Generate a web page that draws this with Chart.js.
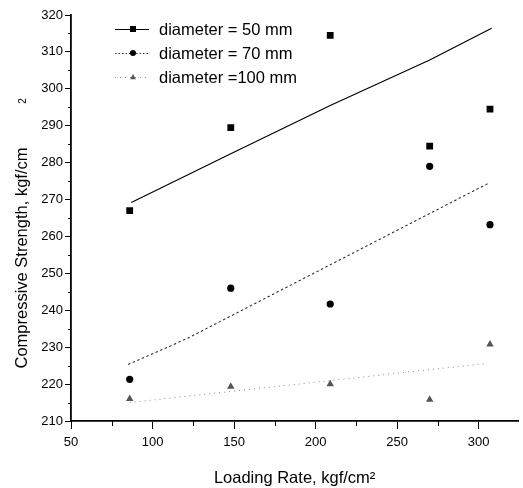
<!DOCTYPE html>
<html>
<head>
<meta charset="utf-8">
<script src="https://cdn.jsdelivr.net/npm/chart.js@4.4.0/dist/chart.umd.min.js"></script>
<style>
  html, body { margin: 0; padding: 0; background: #fff; }
</style>
</head>
<body>
<canvas id="strengthChart" width="523" height="488"></canvas>
<script>
// measured points
var loadingRate = [86, 148, 209, 270, 307];
var strength50 = [267, 289.5, 314.5, 284.5, 294.5];
var strength70 = [221.3, 246, 241.7, 279, 263.2];
var strength100 = [216, 219.3, 220, 215.8, 230.8];

// fitted lines
var fit50X = [87, 148, 209, 270, 308];
var fit50Y = [269.2, 282.4, 295.5, 307.8, 316.4];
var fit70X = [85, 121, 306];
var fit70Y = [225.3, 232.3, 274.4];
var fit100X = [86, 305];
var fit100Y = [215, 225.6];

// axis ticks
var xTicks = [50, 100, 150, 200, 250, 300];
var xMinor = [75, 125, 175, 225, 275];
var yTicks = [210, 220, 230, 240, 250, 260, 270, 280, 290, 300, 310, 320];
var yMinor = [215, 225, 235, 245, 255, 265, 275, 285, 295, 305, 315];

var legendNames = ["diameter = 50 mm", "diameter = 70 mm", "diameter =100 mm"];

var FONT = "'Liberation Sans', Arial, sans-serif";
var INK = "#000";

function pts(xs, ys) {
    return xs.map(function (x, i) { return { x: x, y: ys[i] }; });
}

// legend rows: line style + marker
var legendStyles = [
    { dash: [], color: INK, width: 1.2, marker: "rect", fill: INK },
    { dash: [1.5, 2], color: "#333", width: 1, marker: "circle", fill: INK },
    { dash: [1, 4], color: "#888", width: 1, marker: "triangle", fill: "#555" }
];

function drawMarker(ctx, kind, x, y, r) {
    ctx.beginPath();
    if (kind === "rect") {
        ctx.rect(x - r, y - r, 2 * r, 2 * r);
    } else if (kind === "circle") {
        ctx.arc(x, y, r, 0, Math.PI * 2);
    } else {
        ctx.moveTo(x, y - r * 1.1);
        ctx.lineTo(x + r, y + r * 0.8);
        ctx.lineTo(x - r, y + r * 0.8);
        ctx.closePath();
    }
    ctx.fill();
}

var extras = {
    id: "extras",
    afterDraw: function (chart) {
        var ctx = chart.ctx;
        var xs = chart.scales.x, ys = chart.scales.y;
        ctx.save();

        // minor ticks
        ctx.strokeStyle = INK;
        ctx.lineWidth = 1;
        xMinor.forEach(function (v) {
            var px = Math.round(xs.getPixelForValue(v)) + 0.5;
            ctx.beginPath();
            ctx.moveTo(px, xs.top);
            ctx.lineTo(px, xs.top + 5);
            ctx.stroke();
        });
        yMinor.forEach(function (v) {
            var py = Math.round(ys.getPixelForValue(v)) + 0.5;
            ctx.beginPath();
            ctx.moveTo(ys.right, py);
            ctx.lineTo(ys.right - 3, py);
            ctx.stroke();
        });

        // legend
        var rowY = [29, 53, 77];
        ctx.font = "16.5px " + FONT;
        ctx.textBaseline = "middle";
        ctx.textAlign = "left";
        legendNames.forEach(function (name, i) {
            var s = legendStyles[i];
            ctx.strokeStyle = s.color;
            ctx.lineWidth = s.width;
            ctx.setLineDash(s.dash);
            ctx.beginPath();
            ctx.moveTo(115, rowY[i] + 0.5);
            ctx.lineTo(149, rowY[i] + 0.5);
            ctx.stroke();
            ctx.setLineDash([]);
            ctx.fillStyle = s.fill;
            drawMarker(ctx, s.marker, 133, rowY[i], i === 2 ? 2.8 : 3);
            ctx.fillStyle = INK;
            ctx.fillText(name, 159, rowY[i] + 1);
        });

        // y axis title
        ctx.fillStyle = INK;
        ctx.translate(22, 258);
        ctx.rotate(-Math.PI / 2);
        ctx.textAlign = "center";
        ctx.font = "16.5px " + FONT;
        ctx.fillText("Compressive Strength, kgf/cm", 0, 0);
        ctx.font = "10px " + FONT;
        ctx.fillText("2", 157, 1);
        ctx.restore();
    }
};

new Chart(document.getElementById("strengthChart"), {
    type: "scatter",
    data: {
        datasets: [
            {
                data: pts(fit50X, fit50Y),
                showLine: true,
                borderColor: INK,
                borderWidth: 1.2,
                pointRadius: 0,
                tension: 0
            },
            {
                data: pts(fit70X, fit70Y),
                showLine: true,
                borderColor: "#333",
                borderWidth: 1.1,
                borderDash: [2.5, 2.5],
                pointRadius: 0,
                tension: 0
            },
            {
                data: pts(fit100X, fit100Y),
                showLine: true,
                borderColor: "#888",
                borderWidth: 1,
                borderDash: [1, 4],
                pointRadius: 0,
                tension: 0
            },
            {
                data: pts(loadingRate, strength50),
                pointStyle: "rect",
                pointRadius: 4.8,
                backgroundColor: INK,
                borderColor: INK,
                borderWidth: 0
            },
            {
                data: pts(loadingRate, strength70),
                pointStyle: "circle",
                pointRadius: 3.6,
                backgroundColor: INK,
                borderColor: INK,
                borderWidth: 0
            },
            {
                data: pts(loadingRate, strength100),
                pointStyle: "triangle",
                pointRadius: 4.3,
                backgroundColor: "#555",
                borderColor: "#555",
                borderWidth: 0
            }
        ]
    },
    options: {
        responsive: false,
        animation: false,
        layout: {
            padding: { left: 0, right: 0, top: 15, bottom: 0 }
        },
        plugins: {
            legend: { display: false },
            tooltip: { enabled: false }
        },
        scales: {
            x: {
                type: "linear",
                min: 50,
                max: 324.3,
                afterBuildTicks: function (s) {
                    s.ticks = xTicks.map(function (v) { return { value: v }; });
                },
                afterFit: function (s) { s.height = 67; },
                grid: {
                    drawOnChartArea: false,
                    tickLength: 8,
                    tickColor: INK,
                    tickWidth: 1
                },
                border: { color: INK, width: 1.8 },
                ticks: {
                    color: INK,
                    padding: 6,
                    maxRotation: 0,
                    font: { family: FONT, size: 13 }
                },
                title: {
                    display: true,
                    text: "Loading Rate, kgf/cm\u00b2",
                    color: INK,
                    padding: { top: 0, bottom: 0 },
                    font: { family: FONT, size: 16.5 }
                }
            },
            y: {
                type: "linear",
                min: 210,
                max: 320,
                afterBuildTicks: function (s) {
                    s.ticks = yTicks.map(function (v) { return { value: v }; });
                },
                afterFit: function (s) { s.width = 71; },
                grid: {
                    drawOnChartArea: false,
                    tickLength: 6,
                    tickColor: INK,
                    tickWidth: 1
                },
                border: { color: INK, width: 1.8 },
                ticks: {
                    color: INK,
                    padding: 2,
                    font: { family: FONT, size: 13 }
                }
            }
        }
    },
    plugins: [extras]
});
</script>
</body>
</html>
